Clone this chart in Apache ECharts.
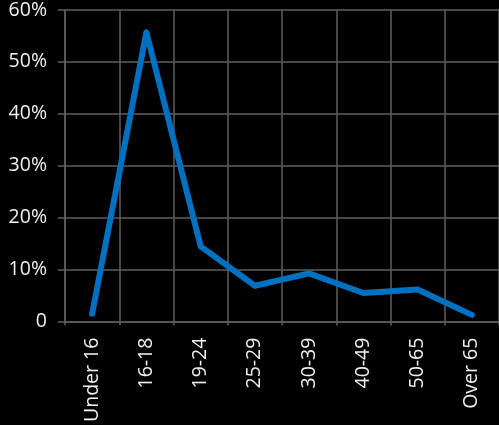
<!DOCTYPE html>
<html><head><meta charset="utf-8">
<script src="https://cdn.jsdelivr.net/npm/echarts@6/dist/echarts.min.js"></script>
<style>html,body{margin:0;padding:0;background:#000;}#c{width:499px;height:425px;}</style>
</head><body><div id="c"></div>
<script>
var categories = ["Under 16","16-18","19-24","25-29","30-39","40-49","50-65","Over 65"];
var values = [1.5, 55.7, 14.5, 6.9, 9.3, 5.5, 6.2, 1.3];
var yTicks = [0, 10, 20, 30, 40, 50, 60];
var chart = echarts.init(document.getElementById('c'));
var gridColor = '#5e5e5e';
chart.setOption({
  backgroundColor: '#000',
  animation: false,
  grid: {left: 65, right: -3, top: 10, bottom: 102, containLabel: false},
  xAxis: {
    type: 'category', data: categories, boundaryGap: true,
    axisLine: {show: true, lineStyle: {color: gridColor, width: 1.5}},
    axisTick: {show: true, length: 4, alignWithLabel: false, lineStyle: {color: gridColor, width: 1.5}},
    splitLine: {show: true, lineStyle: {color: gridColor, width: 1.5}},
    axisLabel: {rotate: 90, color: '#f0f0f0', fontSize: 19.5, fontFamily: 'Open Sans', margin: 16, interval: 0}
  },
  yAxis: {
    type: 'value', min: 0, max: 60, interval: 10,
    axisLine: {show: true, lineStyle: {color: gridColor, width: 1.5}},
    axisTick: {show: true, length: 7, lineStyle: {color: gridColor, width: 1.5}},
    splitLine: {show: true, lineStyle: {color: gridColor, width: 1.5}},
    axisLabel: {color: '#f0f0f0', fontSize: 19.5, fontFamily: 'Open Sans', margin: 18,
      formatter: function(v){ return yTicks.indexOf(v) === 0 ? '0' : v + '%'; }}
  },
  series: [{
    type: 'line', data: values, symbol: 'none',
    lineStyle: {color: '#0070C0', width: 6, cap: 'round', join: 'round'}
  }]
});
</script></body></html>
